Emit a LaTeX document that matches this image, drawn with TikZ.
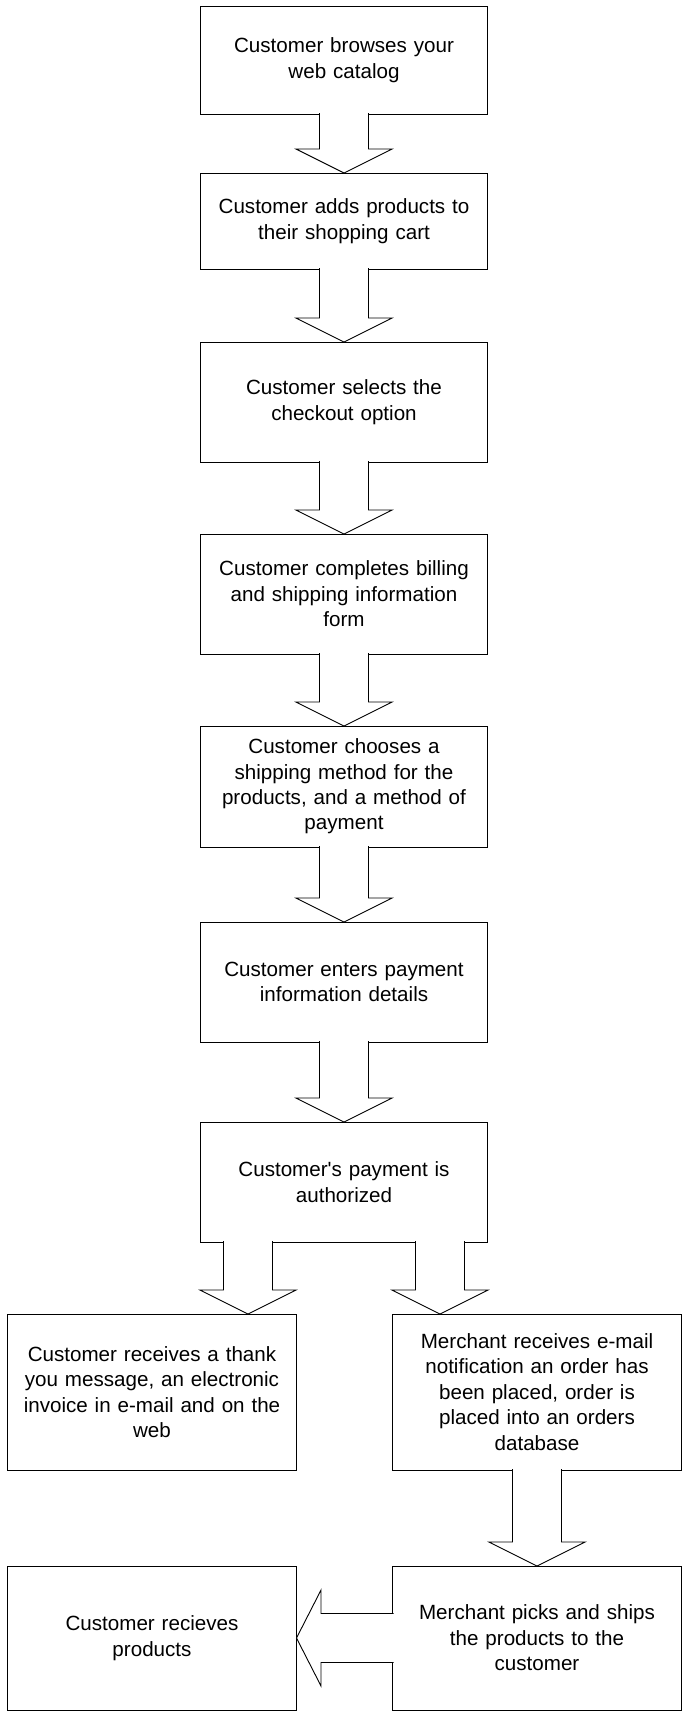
\documentclass[tikz,border=0pt]{standalone}
\usepackage{fontspec}
\setmainfont{Liberation Sans}[Ligatures=TeXOff]
\usepackage{tikz}
\usetikzlibrary{positioning, calc}

\begin{document}
\begin{tikzpicture}[x=1pt, y=1pt,
  font=\fontsize{20.6}{25.4}\selectfont,
  st/.style={draw, line width=0.9pt, outer sep=0pt, inner sep=0pt,
    text width=279pt, align=center, minimum width=287pt},
  wst/.style={st, minimum width=289pt},
  blk/.style={draw, line width=0.9pt, fill=white}]
\useasboundingbox (0,0) rectangle (686,-1711);

% main column
\node[st, minimum height=108pt](browse) at (344,-60) {Customer browses your\\web catalog};
\node[st, minimum height=96pt, below=59pt of browse](cart){Customer adds products to\\their shopping cart};
\node[st, minimum height=120pt, below=73pt of cart](checkout){Customer selects the\\checkout option};
\node[st, minimum height=120pt, below=72pt of checkout](billing){Customer completes billing\\and shipping information\\form};
\node[st, minimum height=121pt, below=72pt of billing](shipmeth){Customer chooses a\\shipping method for the\\products, and a method of\\payment};
\node[st, minimum height=120pt, below=75pt of shipmeth](payinfo){Customer enters payment\\information details};
\node[st, minimum height=120pt, below=80pt of payinfo](auth){Customer's payment is\\authorized};

% two branches
\node[wst, minimum height=156pt, below=72pt of auth, xshift=-192pt](thanks){Customer receives a thank\\you message, an electronic\\invoice in e-mail and on the\\web};
\node[wst, minimum height=156pt, below=72pt of auth, xshift=193pt](merchant){Merchant receives e-mail\\notification an order has\\been placed, order is\\placed into an orders\\database};
\node[wst, minimum height=144pt, below=96pt of thanks](received){Customer recieves\\products};
\node[wst, minimum height=144pt, below=96pt of merchant](picks){Merchant picks and ships\\the products to the\\customer};

\foreach \frm/\tto in {browse/cart, cart/checkout, checkout/billing, billing/shipmeth,
    shipmeth/payinfo, payinfo/auth, merchant/picks}
  {\draw[blk] ($(\frm.south)+(-24.5,1)$) -- ($(\tto.north)+(-24.5,24)$) -- ($(\tto.north)+(-48,24)$)
     -- (\tto.north) -- ($(\tto.north)+(48,24)$) -- ($(\tto.north)+(24.5,24)$) -- ($(\frm.south)+(24.5,1)$);}

\coordinate (lfork) at ($(auth.south)+(-96,0)$);
\coordinate (rfork) at ($(auth.south)+(96,0)$);
\foreach \frk/\tto in {lfork/thanks, rfork/merchant}
  {\draw[blk] ($(\frk)+(-24.5,1)$) -- ($(\frk |- \tto.north)+(-24.5,24)$) -- ($(\frk |- \tto.north)+(-48,24)$)
     -- (\frk |- \tto.north) -- ($(\frk |- \tto.north)+(48,24)$) -- ($(\frk |- \tto.north)+(24.5,24)$) -- ($(\frk)+(24.5,1)$);}

\draw[blk] ($(picks.west)+(1,24.5)$) -- ($(received.east)+(24.5,24.5)$) -- ($(received.east)+(24.5,48)$)
   -- (received.east) -- ($(received.east)+(24.5,-48)$) -- ($(received.east)+(24.5,-24.5)$) -- ($(picks.west)+(1,-24.5)$);

\end{tikzpicture}
\end{document}
